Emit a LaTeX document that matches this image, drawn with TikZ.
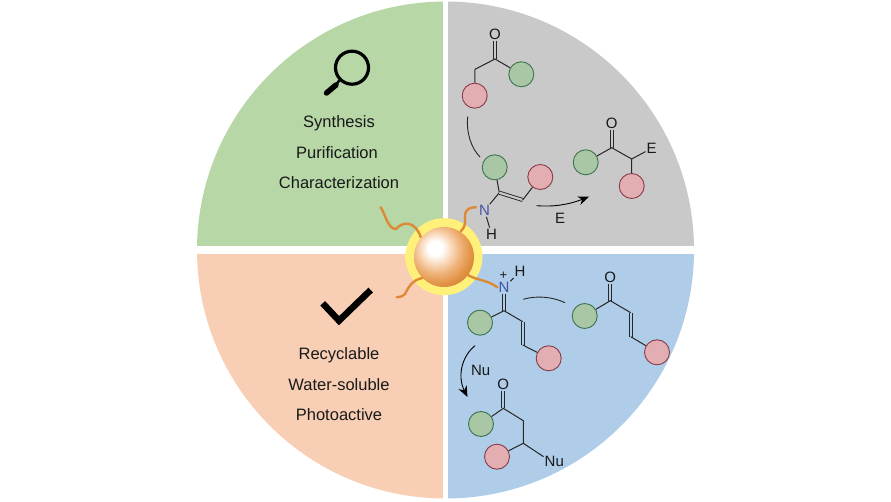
\documentclass[tikz,border=0pt]{standalone}
\usepackage{fontspec}
\setmainfont{Liberation Sans}
\usetikzlibrary{arrows.meta}
\definecolor{greenq}{HTML}{B7D7A7}
\definecolor{greyq}{HTML}{C9C9C9}
\definecolor{orangeq}{HTML}{F8CFB5}
\definecolor{blueq}{HTML}{AFCDE8}
\definecolor{ligcol}{HTML}{DE8A35}
\definecolor{nblue}{HTML}{4453A6}
\definecolor{grpgreen}{HTML}{A9C7A4}
\definecolor{grpgreenl}{HTML}{3C7450}
\definecolor{grpred}{HTML}{E3AEB1}
\definecolor{grpredl}{HTML}{8A3A48}
\definecolor{ballA}{HTML}{F9D9BA}
\definecolor{ballB}{HTML}{EFB27A}
\definecolor{ballC}{HTML}{E39548}
\definecolor{ballD}{HTML}{CC7A2C}
\definecolor{haloA}{HTML}{FFF07A}
\definecolor{haloB}{HTML}{FFF28C}
\definecolor{haloC}{HTML}{FFF8BC}
\pgfdeclareradialshading{ballshade}{\pgfpoint{-8bp}{8bp}}{%
  color(0bp)=(white); color(6bp)=(white); color(13bp)=(ballA);
  color(20bp)=(ballB); color(27bp)=(ballC); color(36bp)=(ballD); color(80bp)=(ballD)}
\pgfdeclareradialshading{haloshade}{\pgfpoint{0bp}{0bp}}{%
  color(0bp)=(haloA); color(38bp)=(haloA); color(43bp)=(haloB);
  color(50bp)=(haloC); color(60bp)=(haloC)}
\tikzset{
  bond/.style={draw=black!85, line width=1pt},
  dbond/.style={bond, double distance=2.2pt, line width=0.9pt},
  bendline/.style={draw=black!85, line width=0.9pt},
  react/.style={draw=black, line width=0.9pt, -{Stealth[length=11pt,width=9pt]}},
  ligand/.style={draw=ligcol, line width=2.4pt, line cap=round},
  grp/.style={circle, inner sep=0pt, minimum size=25pt, line width=0.9pt},
  grpG/.style={grp, draw=grpgreenl, fill=grpgreen},
  grpR/.style={grp, draw=grpredl, fill=grpred},
  atom/.style={font=\fontsize{15}{15}\selectfont, inner sep=1pt, text=black!90},
  atomN/.style={atom, text=nblue},
  lbl/.style={font=\fontsize{16.5}{20}\selectfont, text=black!90}
}
\begin{document}
\begin{tikzpicture}[x=1pt, y=-1pt]
  \useasboundingbox (0,0) rectangle (891,502);
  % quadrants
  \begin{scope}
    \clip (445.5,250) circle (248.5pt);
    \fill[greenq] (150,0) rectangle (443,246);
    \fill[greyq] (448,0) rectangle (740,246);
    \fill[orangeq] (150,254) rectangle (443,502);
    \fill[blueq] (448,254) rectangle (740,502);
  \end{scope}
  % left panels
  \node[lbl] (syn) at (339,123) {Synthesis};
  \node[lbl] (pur) at (337,152.5) {Purification};
  \node[lbl] (cha) at (339,182.5) {Characterization};
  \node[circle, draw=black, line width=3.2pt, minimum size=33pt, inner sep=0pt] (lens) at (352,67.7) {};
  \coordinate (hnd) at (326.5,93);
  \draw[black, line width=2.5pt] (lens.225) -- (336,85);
  \draw[black, line width=5.5pt, line cap=round] (336,85) -- (hnd);
  \coordinate (ck1) at (322.7,303.3);
  \coordinate (ck2) at (339,320.7);
  \coordinate (ck3) at (370.7,290);
  \draw[black, line width=6.5pt] (ck1) -- (ck2) -- (ck3);
  \node[lbl] (rec) at (339,355) {Recyclable};
  \node[lbl] (wat) at (339,384.3) {Water-soluble};
  \node[lbl] (pho) at (339,414.3) {Photoactive};
  % grey panel, ketone
  \node[atom] (oA) at (495,34) {O};
  \coordinate (cA) at (495,59);
  \coordinate (chA) at (475,69.3);
  \node[grpG] (gA) at (521.3,74.3) {};
  \node[grpR] (rA) at (474.7,95.7) {};
  \draw[dbond, double=greyq] (oA) -- (cA);
  \draw[bond] (gA) -- (cA) -- (chA) -- (rA);
  \coordinate (arcAs) at (467.7,116.7);
  \coordinate (arcAe) at (480,157);
  \draw[bendline] (arcAs) .. controls (466,132) and (471,148) .. (arcAe);
  % grey panel, enamine
  \node[grpG] (gB) at (494.7,167.3) {};
  \node[grpR] (rB) at (540.3,177) {};
  \coordinate (cB) at (499.3,192.7);
  \coordinate (cBb) at (522.7,200);
  \node[atomN] (nB) at (484.5,210.5) {N};
  \node[atom] (hB) at (491.5,234) {H};
  \draw[bond] (gB) -- (cB) -- (nB);
  \draw[dbond, double=greyq] (cB) -- (cBb);
  \draw[bond] (cBb) -- (rB);
  \draw[bond] (nB) -- (hB);
  \coordinate (arrEs) at (536.7,205.7);
  \coordinate (arrEe) at (589,196.7);
  \draw[react] (arrEs) .. controls (552,207) and (568,205) .. (arrEe);
  \node[atom] (eA) at (560,218.3) {E};
  % grey panel, product
  \node[atom] (oC) at (611.7,123.3) {O};
  \coordinate (cC) at (611.7,147.7);
  \coordinate (chC) at (631.7,159);
  \node[grpG] (gC) at (585.7,162.3) {};
  \node[grpR] (rC) at (631.7,186) {};
  \node[atom] (eC) at (651.7,148.3) {E};
  \draw[dbond, double=greyq] (oC) -- (cC);
  \draw[bond] (gC) -- (cC) -- (chC) -- (rC);
  \draw[bond] (chC) -- (eC);
  % blue panel, iminium
  \node[atomN] (nD) at (504,287.7) {N};
  \node[atom, font=\fontsize{13}{13}\selectfont] (pD) at (503.3,276) {+};
  \node[atom] (hD) at (520,271.7) {H};
  \coordinate (cD) at (504,310.7);
  \coordinate (cDa) at (522.7,321.7);
  \coordinate (cDb) at (522.7,345);
  \node[grpG] (gD) at (480,322.7) {};
  \node[grpR] (rD) at (548.7,358.3) {};
  \draw[bond] (nD) -- (hD);
  \draw[dbond, double=blueq] (nD) -- (cD);
  \draw[bond] (gD) -- (cD) -- (cDa);
  \draw[dbond, double=blueq] (cDa) -- (cDb);
  \draw[bond] (cDb) -- (rD);
  \coordinate (arcDs) at (523.3,299.3);
  \coordinate (arcDe) at (565,302.7);
  \draw[bendline] (arcDs) .. controls (536,295.5) and (552,296.5) .. (arcDe);
  % blue panel, enone
  \node[atom] (oF) at (610.3,277.3) {O};
  \coordinate (cF) at (610.3,300.7);
  \coordinate (cFa) at (630.7,312.7);
  \coordinate (cFb) at (630.7,336.7);
  \node[grpG] (gF) at (584.7,316) {};
  \node[grpR] (rF) at (657,352.3) {};
  \draw[dbond, double=blueq] (oF) -- (cF);
  \draw[bond] (gF) -- (cF) -- (cFa);
  \draw[dbond, double=blueq] (cFa) -- (cFb);
  \draw[bond] (cFb) -- (rF);
  % blue panel, addition
  \coordinate (arrNs) at (475,345.7);
  \coordinate (arrNe) at (467.5,397);
  \draw[react] (arrNs) .. controls (462,356) and (457,376) .. (arrNe);
  \node[atom] (nuA) at (480.7,370) {Nu};
  \node[atom] (oG) at (503.3,384.3) {O};
  \coordinate (cG) at (503.3,408.3);
  \coordinate (chG) at (523.3,420.7);
  \coordinate (chH) at (523.3,443.3);
  \node[grpG] (gG) at (481,424) {};
  \node[grpR] (rG) at (497,456.7) {};
  \node[atom] (nuB) at (554.3,461.7) {Nu};
  \draw[dbond, double=blueq] (oG) -- (cG);
  \draw[bond] (gG) -- (cG) -- (chG) -- (chH) -- (rG);
  \draw[bond] (chH) -- (nuB.155);
  % particle
  \node[circle, shading=haloshade, minimum size=77pt, inner sep=0pt] (halo) at (444,256.7) {};
  \node[circle, minimum size=60pt, inner sep=0pt] (ball) at (444,257) {};
  \coordinate (ligA) at (380.7,207.3);
  \coordinate (ligB) at (476,207.3);
  \coordinate (ligC) at (497.3,287.3);
  \coordinate (ligD) at (396.7,297.3);
  \draw[ligand] (ball.140) .. controls (416,222) and (404,220) .. (396,229) .. controls (388,229) and (386,216) .. (ligA);
  \draw[ligand] (ball.57) .. controls (468,224) and (464,220) .. (465,214) .. controls (466,209) and (471,207) .. (ligB);
  \draw[ligand] (ball.-37) .. controls (476,280) and (488,280) .. (ligC);
  \draw[ligand] (ball.-136) .. controls (412,280) and (408,288) .. (405,294) .. controls (402,297) and (399,297) .. (ligD);
  \shade[shading=ballshade] (ball.center) circle (30pt);
\end{tikzpicture}
\end{document}
